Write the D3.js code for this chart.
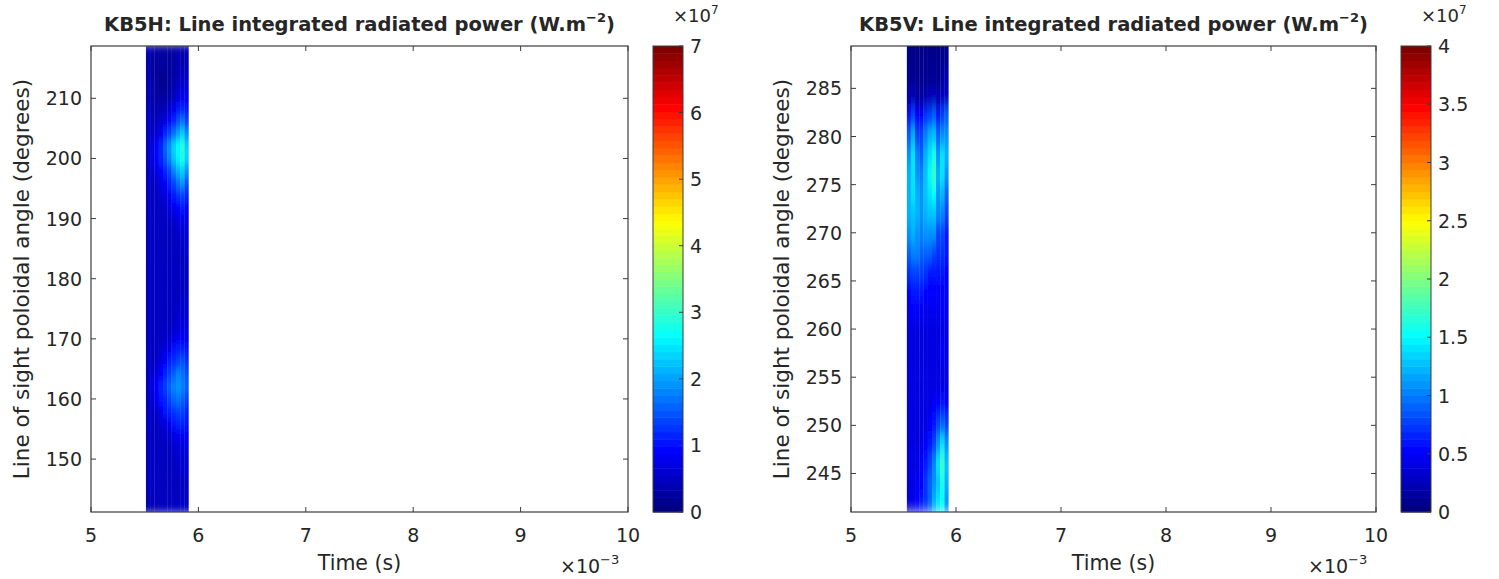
<!DOCTYPE html>
<html><head><meta charset="utf-8">
<script src="https://cdn.jsdelivr.net/npm/d3@7"></script>
<style>
body{margin:0;background:#fff;}
text{font-family:"DejaVu Sans",sans-serif;fill:#262626;}
</style></head>
<body><svg id="c" width="1499" height="579"></svg>
<script>
// ---- data (values in units of 1e6 W.m^-2) ----
const xTicks = [5,6,7,8,9,10];               // time, x10^-3 s
const timeEdgesL = [5.51,5.55,5.59,5.63,5.67,5.71,5.75,5.79,5.83,5.87,5.91];
const timeEdgesR = [5.53,5.57,5.61,5.65,5.69,5.73,5.77,5.81,5.85,5.89,5.93];
const yTicksL = [150,160,170,180,190,200,210];
const yTicksR = [245,250,255,260,265,270,275,280,285];
const cbTicksL = [0,1,2,3,4,5,6,7];
const cbTicksR = [0,0.5,1,1.5,2,2.5,3,3.5,4];
const anglesL = [218,216,214,212,210,208,206,204,202,200,198,196,194,192,190,188,186,184,182,180,178,176,174,172,170,168,166,164,162,160,158,156,154,152,150,148,146,144,142];
const powerL = [
 [4,4,3,3,3,3,3,4,4,4],
 [4,3,3,3,3,3,3,4,4,4],
 [4,3,3,2,2,3,3,4,5,5],
 [4,4,3,2,2,3,4,5,6,6],
 [4,4,3,3,3,4,5,7,8,8],
 [5,4,4,4,5,6,8,10,12,10],
 [5,5,5,6,7,9,12,15,17,14],
 [5,5,6,8,11,14,17,20,23,19],
 [5,7,9,12,16,19,23,27,29,24],
 [5,7,9,12,15,18,22,26,28,23],
 [5,6,7,9,12,14,18,21,23,19],
 [5,5,6,7,9,11,14,17,19,15],
 [5,5,5,6,7,8,10,13,14,12],
 [5,5,5,5,6,7,8,9,10,9],
 [5,5,5,5,5,6,6,7,8,7],
 [5,5,5,5,5,5,5,6,6,6],
 [5,5,5,5,5,5,5,5,6,6],
 [5,5,5,5,5,5,5,5,5,6],
 [5,5,5,5,5,5,5,5,5,5],
 [5,5,5,5,5,5,5,5,5,5],
 [5,5,5,5,5,5,5,5,5,5],
 [5,5,5,5,5,5,5,5,6,6],
 [5,5,5,5,5,5,5,6,6,6],
 [5,5,5,5,5,5,6,6,7,7],
 [5,5,5,5,6,6,7,8,8,8],
 [5,5,5,6,7,8,10,11,12,10],
 [5,5,6,7,9,11,13,14,15,13],
 [5,6,7,9,12,14,16,18,17,15],
 [5,7,9,11,14,16,18,19,18,16],
 [5,6,8,10,12,14,16,17,16,14],
 [5,5,6,8,10,11,13,14,14,12],
 [5,5,5,6,7,8,10,11,11,10],
 [5,5,5,5,6,6,7,8,8,8],
 [5,5,5,5,5,5,6,6,7,7],
 [5,5,5,5,5,5,5,6,6,6],
 [5,5,5,5,5,5,5,5,6,6],
 [5,5,5,5,5,5,5,5,5,5],
 [4,5,5,5,5,5,5,5,5,5],
 [4,4,4,5,5,5,5,5,5,5]
];
const anglesR = [290,288,286,284,282,280,278,276,274,272,270,268,266,264,262,260,258,256,254,252,250,248,246,244,242];
const powerR = [
 [0.5,0.5,0.5,0.5,0.5,0.5,0.5,0.5,0.5,0.5],
 [0.7,0.7,0.7,0.7,0.7,0.7,0.7,0.7,0.8,0.8],
 [1,1,1,1,1,1,1,1,1.5,2],
 [2,2.5,1.5,1.5,2,2.5,2.5,2,2.5,3],
 [6,8,5,5,7,8,9,6,8,9],
 [9,12,8,8,10,12,13,9,11,11],
 [11,14,10,9,12,14,16,11,14,12],
 [12,14,11,10,13,15,17,12,14,11],
 [12,14,12,11,13,14,15,11,12,9],
 [12,13,12,11,12,13,13,10,10,8],
 [11,12,11,10,11,11,11,8,8,6],
 [9,10,10,9,9,9,8,7,7,6],
 [7,8,8,8,7,6,6,6,6,5],
 [5,6,6,6,5,5,5,5,5,5],
 [4.5,5,5,4.5,4.5,4.5,4.5,4.5,5,4.5],
 [4,4,4,4,4,4,4,4,4,4],
 [4,4,4,4,4,4,4,4,5,4],
 [4,4,4,4,4,4,4,4,4,4],
 [4,4,4,4,4,4,4,4,4,4],
 [4,4,4,4,4,4,5,5,6,5],
 [4,4,4,4,4,5,6,8,9,8],
 [4,4,4,4,5,6,8,11,14,11],
 [4,4,4,5,6,8,10,14,17,13],
 [4,4,5,5,7,9,11,13,16,12],
 [4,4,5,6,7,9,12,14,15,11]
];

// ---- jet colormap (64 levels) ----
function jet(t){
  t = Math.max(0, Math.min(1, t));
  t = Math.min(63, Math.floor(t*64)) / 63;
  const c = v => Math.round(255*Math.max(0, Math.min(1, v)));
  return `rgb(${c(1.5-Math.abs(4*t-3))},${c(1.5-Math.abs(4*t-2))},${c(1.5-Math.abs(4*t-1))})`;
}

const svg = d3.select("#c");
const defs = svg.append("defs");

function panel(cfg){
  const {x0,x1,y0,y1,ydom,yticks,cbx,cbw,cbmax,cbticks,timeEdges,angles,power,title,id,cex} = cfg;
  const x = d3.scaleLinear([5,10],[x0,x1]);
  const y = d3.scaleLinear(ydom,[y1,y0]);
  const color = v => jet(v/(cbmax*10));   // data in 1e6, colorbar in 1e7

  // heatmap cells
  const step = Math.abs(angles[0]-angles[1]);
  const rowPx = Math.abs(y(0)-y(step));
  const bx0 = x(timeEdges[0]), bx1 = x(timeEdges[timeEdges.length-1]);
  defs.append("clipPath").attr("id","clip"+id).append("rect")
    .attr("x",bx0).attr("y",y0).attr("width",bx1-bx0).attr("height",y1-y0);
  const f = defs.append("filter").attr("id","blur"+id)
    .attr("x",0).attr("y",0).attr("width",1).attr("height",1);
  f.append("feGaussianBlur").attr("stdDeviation",`0.5 ${(rowPx*0.33).toFixed(1)}`).attr("edgeMode","duplicate");
  const cellG = svg.append("g").attr("clip-path",`url(#clip${id})`)
    .append("g").attr("filter",`url(#blur${id})`);
  angles.forEach((a,i)=>{
    power[i].forEach((v,j)=>{
      const xa = x(timeEdges[j]), xb = x(timeEdges[j+1]);
      const ya = y(a+step/2), yb = y(a-step/2);
      cellG.append("rect").attr("x",xa).attr("y",ya)
        .attr("width",xb-xa+0.3).attr("height",yb-ya+0.3)
        .attr("fill",color(v));
    });
  });

  // box and ticks (inward on all four sides)
  const axc = "#3c3c3c";
  svg.append("rect").attr("x",x0).attr("y",y0).attr("width",x1-x0).attr("height",y1-y0)
    .attr("fill","none").attr("stroke",axc).attr("stroke-width",1.2);
  const tl = 5;
  xTicks.forEach(t=>{
    svg.append("line").attr("x1",x(t)).attr("x2",x(t)).attr("y1",y1).attr("y2",y1-tl).attr("stroke",axc);
    svg.append("line").attr("x1",x(t)).attr("x2",x(t)).attr("y1",y0).attr("y2",y0+tl).attr("stroke",axc);
    svg.append("text").attr("x",x(t)).attr("y",y1+30).attr("text-anchor","middle")
      .attr("font-size",19).text(t);
  });
  yticks.forEach(t=>{
    svg.append("line").attr("x1",x0).attr("x2",x0+tl).attr("y1",y(t)).attr("y2",y(t)).attr("stroke",axc);
    svg.append("line").attr("x1",x1).attr("x2",x1-tl).attr("y1",y(t)).attr("y2",y(t)).attr("stroke",axc);
    svg.append("text").attr("x",x0-9).attr("y",y(t)+7).attr("text-anchor","end")
      .attr("font-size",19).text(t);
  });
  // x label and exponent
  svg.append("text").attr("x",(x0+x1)/2).attr("y",y1+58).attr("text-anchor","middle")
    .attr("font-size",20.5).text("Time (s)");
  const ex = svg.append("text").attr("x",x1-68).attr("y",y1+61).attr("font-size",19);
  ex.append("tspan").text("\u00d710");
  ex.append("tspan").attr("dy",-9).attr("font-size",13).text("\u22123");
  // y label
  svg.append("text").attr("transform",`translate(${x0-62},${(y0+y1)/2}) rotate(-90)`)
    .attr("text-anchor","middle").attr("font-size",21.5)
    .text("Line of sight poloidal angle (degrees)");
  // title
  const tt = svg.append("text").attr("x",(x0+x1)/2).attr("y",y0-15).attr("text-anchor","middle")
    .attr("font-size",19.5).attr("font-weight","bold");
  tt.append("tspan").text(`${title}: Line integrated radiated power (W.m`);
  tt.append("tspan").attr("dy",-9).attr("font-size",13).text("\u22122");
  tt.append("tspan").attr("dy",9).text(")");

  // colorbar
  const cy = d3.scaleLinear([0,cbmax],[y1,y0]);
  const n = 64;
  d3.range(n).forEach(k=>{
    const va = cbmax*k/n, vb = cbmax*(k+1)/n;
    svg.append("rect").attr("x",cbx).attr("y",cy(vb)).attr("width",cbw)
      .attr("height",cy(va)-cy(vb)+0.5).attr("fill",jet((k+0.5)/n));
  });
  svg.append("rect").attr("x",cbx).attr("y",y0).attr("width",cbw).attr("height",y1-y0)
    .attr("fill","none").attr("stroke",axc).attr("stroke-width",1);
  cbticks.forEach(t=>{
    svg.append("line").attr("x1",cbx+cbw).attr("x2",cbx+cbw-4).attr("y1",cy(t)).attr("y2",cy(t)).attr("stroke",axc);
    svg.append("text").attr("x",cbx+cbw+7).attr("y",cy(t)+7).attr("font-size",19).text(t);
  });
  const ce = svg.append("text").attr("x",cbx+cex).attr("y",y0-24).attr("font-size",18).attr("fill","#555");
  ce.append("tspan").text("\u00d710");
  ce.append("tspan").attr("dy",-8).attr("font-size",12).text("7");
}

panel({id:"L",x0:91,x1:628,y0:46,y1:512,ydom:[141.2,218.7],yticks:yTicksL,cex:20,
  cbx:653,cbw:30,cbmax:7,cbticks:cbTicksL,timeEdges:timeEdgesL,angles:anglesL,power:powerL,title:"KB5H"});
panel({id:"R",x0:851,x1:1376,y0:46,y1:512,ydom:[241.0,289.4],yticks:yTicksR,cex:20,
  cbx:1401,cbw:30,cbmax:4,cbticks:cbTicksR,timeEdges:timeEdgesR,angles:anglesR,power:powerR,title:"KB5V"});
</script></body></html>
